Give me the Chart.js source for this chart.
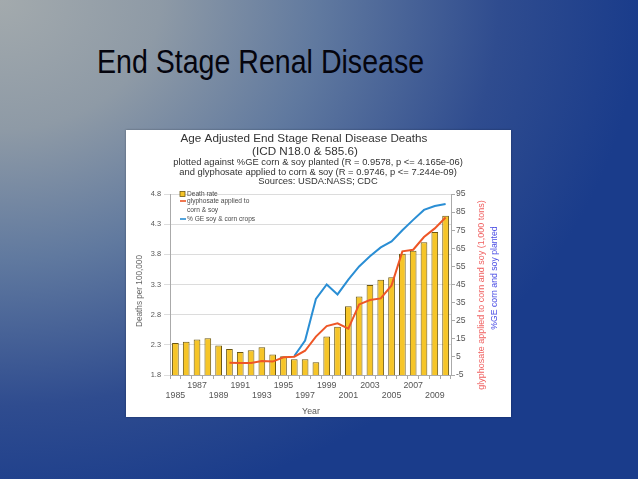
<!DOCTYPE html>
<html>
<head>
<meta charset="utf-8">
<script src="https://cdn.jsdelivr.net/npm/chart.js@4.4.1/dist/chart.umd.min.js"></script>
<style>
  html, body {
    margin: 0;
    padding: 0;
    width: 638px;
    height: 479px;
    overflow: hidden;
  }
  body {
    position: relative;
    background-color: #1b3d8b;
    background-image: radial-gradient(ellipse 640px 520px at 0 0, #a3aaad 0%, #8e9aa6 25%, #60799f 50%, #2f4c8f 78%, #1a3c8b 100%);
    font-family: "Liberation Sans", Arial, sans-serif;
  }
  #slideTitle {
    position: absolute;
    left: 97px;
    top: 44px;
    font-size: 34px;
    line-height: 34px;
    color: #05050e;
    white-space: nowrap;
    transform: scaleX(0.84);
    transform-origin: left top;
  }
  #chartBox {
    position: absolute;
    left: 126px;
    top: 130px;
    width: 385px;
    height: 287px;
    background: #ffffff;
    box-shadow: 0 0 2px rgba(0, 0, 0, 0.35);
  }
</style>
</head>
<body>
<div id="slideTitle">End Stage Renal Disease</div>
<div id="chartBox"><canvas id="renalChart" width="385" height="287"></canvas></div>
<script>
// Gegevens
const years = ['1985', '1986', '1987', '1988', '1989', '1990', '1991', '1992', '1993',
    '1994', '1995', '1996', '1997', '1998', '1999', '2000', '2001', '2002', '2003',
    '2004', '2005', '2006', '2007', '2008', '2009', '2010'];

// Deaths per 100,000 (linker as)
const deathRate = [2.33, 2.35, 2.39, 2.41, 2.29, 2.23, 2.18, 2.21, 2.26, 2.14, 2.11, 2.06, 2.06,
    2.01, 2.44, 2.60, 2.94, 3.10, 3.29, 3.38, 3.42, 3.81, 3.86, 4.00, 4.17, 4.44];

// glyphosate op mais en soja, 1,000 ton (rechter as)
const glyphosate = [null, null, null, null, null, 1.8, 1.6, 1.6, 2.7, 2.4, 4.8, 5.1, 8.4,
    16.2, 22.0, 23.6, 20.6, 34.0, 36.4, 37.3, 44.5, 63.3, 64.2, 71.2, 76.0, 82.0];

// % GE mais en soja (rechter as)
const geShare = [null, null, null, null, null, null, null, null, null, null, null, 5.5, 14.0,
    37.0, 45.0, 39.5, 47.7, 55.0, 60.6, 65.5, 68.8, 75.0, 80.7, 86.2, 88.4, 89.5];

const leftTicks = { min: 1.8, max: 4.8, step: 0.5 };
const rightTicks = { min: -5, max: 95, step: 10 };

const titleLines = [
    'Age Adjusted End Stage Renal Disease Deaths',
    '(ICD N18.0 & 585.6)'
];
const subtitleLines = [
    'plotted against %GE corn & soy planted (R = 0.9578, p <= 4.165e-06)',
    'and glyphosate applied to corn & soy (R = 0.9746, p <= 7.244e-09)',
    'Sources: USDA:NASS; CDC'
];

const FONT = '"Liberation Sans", Arial, sans-serif';
const BAR_FILL = '#f6c528';
const BAR_EDGE = '#6b5712';
const ORANGE = '#ee5626';
const BLUE = '#2a8ed4';

Chart.defaults.font.family = FONT;
Chart.defaults.color = '#555555';

// Titels, astitels en legenda tekenen we zelf op het canvas
const textPlugin = {
    id: 'textPlugin',
    afterDraw(chart) {
        const ctx = chart.ctx;
        const area = chart.chartArea;
        ctx.save();
        ctx.textBaseline = 'middle';
        ctx.textAlign = 'center';

        ctx.fillStyle = '#333333';
        ctx.font = '11.7px ' + FONT;
        ctx.fillText(titleLines[0], 178, 9);
        ctx.fillText(titleLines[1], 179, 21.5);
        ctx.font = '9.4px ' + FONT;
        ctx.fillText(subtitleLines[0], 192, 32.5);
        ctx.fillText(subtitleLines[1], 192, 42.5);
        ctx.fillText(subtitleLines[2], 192, 51.5);

        // x-as titel
        ctx.fillStyle = '#555555';
        ctx.font = '8.8px ' + FONT;
        ctx.fillText('Year', 185, 282);

        // linker astitel
        ctx.save();
        ctx.translate(14, 161);
        ctx.rotate(-Math.PI / 2);
        ctx.fillStyle = '#666666';
        ctx.font = '8.2px ' + FONT;
        ctx.fillText('Deaths per 100,000', 0, 0);
        ctx.restore();

        // rechter astitels
        ctx.save();
        ctx.translate(355.5, 165);
        ctx.rotate(-Math.PI / 2);
        ctx.fillStyle = '#f06262';
        ctx.font = '9px ' + FONT;
        ctx.fillText('glyphosate applied to corn and soy (1,000 tons)', 0, 0);
        ctx.restore();

        ctx.save();
        ctx.translate(369, 148);
        ctx.rotate(-Math.PI / 2);
        ctx.fillStyle = '#4b4ee4';
        ctx.font = '8.7px ' + FONT;
        ctx.fillText('%GE corn and soy planted', 0, 0);
        ctx.restore();

        // legenda linksboven in het plotgebied
        const lx = area.left + 10;
        ctx.textAlign = 'left';
        ctx.font = '6.6px ' + FONT;
        ctx.fillStyle = BAR_FILL;
        ctx.fillRect(lx, area.top - 2.5, 5, 5);
        ctx.strokeStyle = BAR_EDGE;
        ctx.lineWidth = 0.8;
        ctx.strokeRect(lx, area.top - 2.5, 5, 5);
        ctx.fillStyle = '#4a4a4a';
        ctx.fillText('Death rate', lx + 7, area.top);

        ctx.lineWidth = 1.6;
        ctx.strokeStyle = ORANGE;
        ctx.beginPath();
        ctx.moveTo(lx, area.top + 7);
        ctx.lineTo(lx + 6, area.top + 7);
        ctx.stroke();
        ctx.fillText('glyphosate applied to', lx + 7, area.top + 7);
        ctx.fillText('corn & soy', lx + 7, area.top + 16);

        ctx.strokeStyle = BLUE;
        ctx.beginPath();
        ctx.moveTo(lx, area.top + 25);
        ctx.lineTo(lx + 6, area.top + 25);
        ctx.stroke();
        ctx.fillText('% GE soy & corn crops', lx + 7, area.top + 25);

        ctx.restore();
    }
};

const ctx = document.getElementById('renalChart').getContext('2d');
new Chart(ctx, {
    type: 'bar',
    data: {
        labels: years,
        datasets: [
            {
                type: 'line',
                label: 'glyphosate applied to corn & soy',
                data: glyphosate,
                yAxisID: 'y2',
                borderColor: ORANGE,
                borderWidth: 2,
                pointRadius: 0,
                tension: 0,
                order: 1
            },
            {
                type: 'line',
                label: '% GE soy & corn crops',
                data: geShare,
                yAxisID: 'y2',
                borderColor: BLUE,
                borderWidth: 2,
                pointRadius: 0,
                tension: 0,
                order: 2
            },
            {
                label: 'Death rate',
                data: deathRate,
                yAxisID: 'y',
                backgroundColor: BAR_FILL,
                borderColor: BAR_EDGE,
                borderWidth: 1,
                barPercentage: 0.62,
                categoryPercentage: 1.0,
                order: 3
            }
        ]
    },
    options: {
        responsive: false,
        animation: false,
        layout: {
            padding: { top: 64, left: 0, right: 0, bottom: 0 }
        },
        plugins: {
            legend: { display: false },
            tooltip: { enabled: false }
        },
        scales: {
            x: {
                offset: true,
                afterFit: function(scale) { scale.height = 42; },
                grid: {
                    offset: true,
                    drawOnChartArea: false,
                    tickLength: 4,
                    color: '#aaaaaa'
                },
                border: { color: '#aaaaaa' },
                ticks: {
                    autoSkip: false,
                    maxRotation: 0,
                    padding: 2,
                    color: '#555555',
                    font: { size: 8.8, lineHeight: 1.1 },
                    callback: function(value, index) {
                        if (index % 2 !== 0) {
                            return '';
                        }
                        const label = years[index];
                        return (index / 2) % 2 === 0 ? ['', label] : [label, ''];
                    }
                }
            },
            y: {
                position: 'left',
                min: leftTicks.min,
                max: leftTicks.max,
                afterFit: function(scale) { scale.width = 44; },
                grid: {
                    color: '#dcdcdc',
                    tickLength: 6
                },
                border: { color: '#aaaaaa' },
                ticks: {
                    stepSize: leftTicks.step,
                    padding: 3,
                    color: '#555555',
                    font: { size: 7.4 },
                    callback: function(value) {
                        return value.toFixed(1);
                    }
                }
            },
            y2: {
                position: 'right',
                min: rightTicks.min,
                max: rightTicks.max,
                afterFit: function(scale) { scale.width = 60; },
                grid: {
                    drawOnChartArea: false,
                    tickLength: 4,
                    color: '#aaaaaa'
                },
                border: { color: '#aaaaaa' },
                ticks: {
                    stepSize: rightTicks.step,
                    padding: 1,
                    color: '#555555',
                    font: { size: 8.6 },
                    callback: function(value) {
                        return String(Math.round(value));
                    }
                }
            }
        }
    },
    plugins: [textPlugin]
});
</script>
</body>
</html>
